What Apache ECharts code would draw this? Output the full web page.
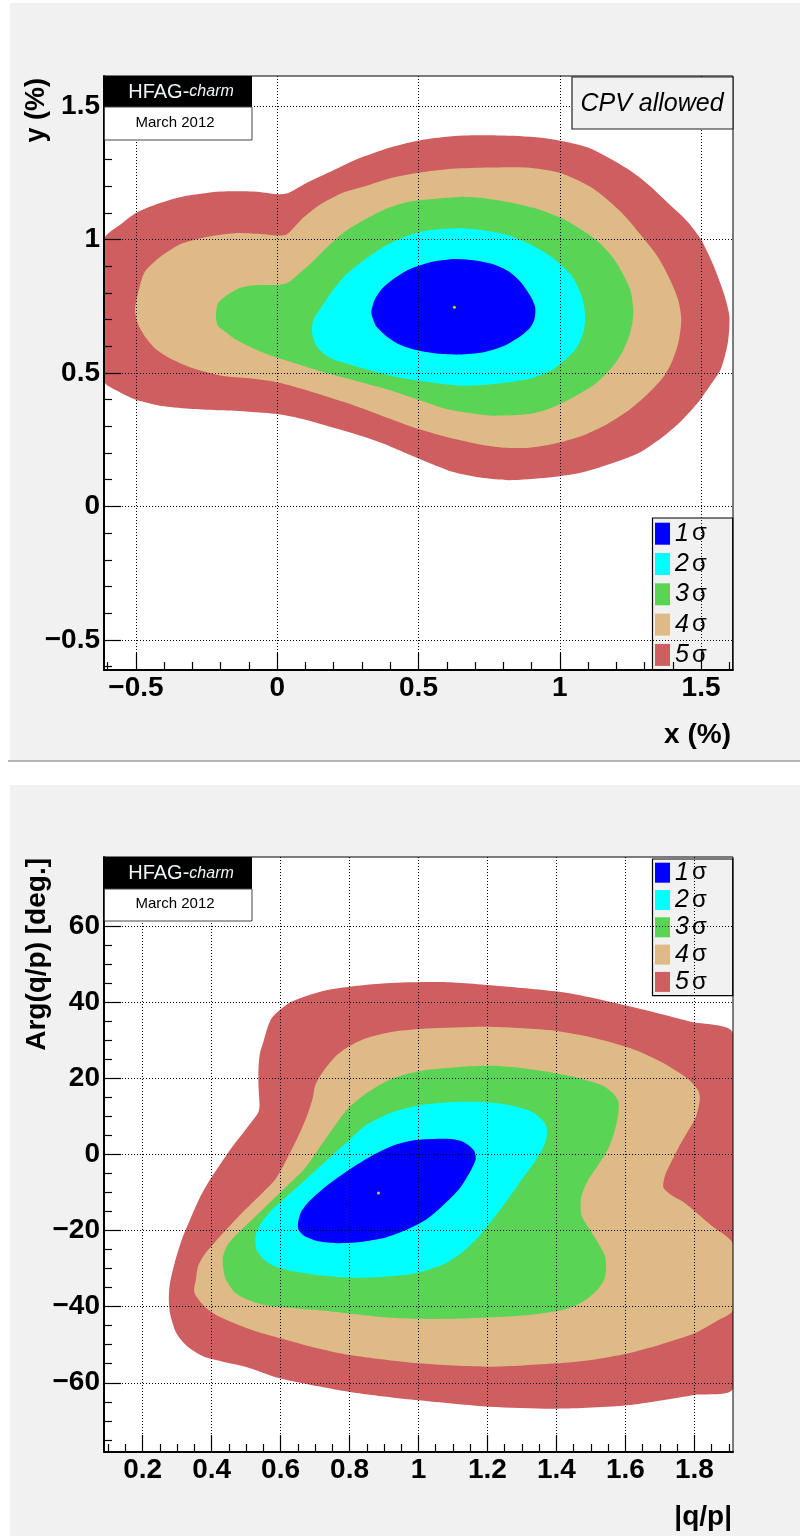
<!DOCTYPE html>
<html><head><meta charset="utf-8">
<script src="https://cdn.jsdelivr.net/npm/echarts@6/dist/echarts.min.js"></script>
<style>
html,body{margin:0;padding:0;background:#fff;}
#wrap{position:relative;width:800px;height:1536px;overflow:hidden;}
.bg{position:absolute;background:#f1f1f1;}
#chart{position:absolute;left:0;top:0;width:800px;height:1536px;}
</style></head><body>
<div id="wrap">
<div class="bg" style="left:10px;top:3px;width:790px;height:757px"></div>
<div style="position:absolute;left:8px;top:760px;width:792px;height:2px;background:#b4b4b4"></div>
<div class="bg" style="left:10px;top:785px;width:790px;height:751px"></div>
<div id="chart"></div>
</div>
<script>
// ---------- Panel 1 : x (%) vs y (%) ----------
const x1Range = [-0.613, 1.613];
const y1Range = [-0.613, 1.613];
const x1Ticks = [-0.5, 0, 0.5, 1, 1.5];
const y1Ticks = [-0.5, 0, 0.5, 1, 1.5];
const x1Minor = [-0.6,-0.4,-0.3,-0.2,-0.1,0.1,0.2,0.3,0.4,0.6,0.7,0.8,0.9,1.1,1.2,1.3,1.4,1.6];
const y1Minor = [-0.6,-0.4,-0.3,-0.2,-0.1,0.1,0.2,0.3,0.4,0.6,0.7,0.8,0.9,1.1,1.2,1.3,1.4,1.6];

const p1_5s = [[-0.613,1.00],[-0.55,1.06],[-0.5,1.10],[-0.42,1.135],[-0.34,1.16],[-0.2,1.18],[-0.08,1.18],[0.0,1.17],[0.04,1.175],[0.1,1.21],[0.18,1.25],[0.28,1.30],[0.4,1.345],[0.52,1.375],[0.66,1.39],[0.8,1.39],[0.95,1.38],[1.1,1.345],[1.24,1.265],[1.32,1.2],[1.38,1.14],[1.45,1.07],[1.5,1.0],[1.545,0.9],[1.58,0.8],[1.6,0.715],[1.595,0.615],[1.57,0.515],[1.53,0.45],[1.49,0.39],[1.43,0.32],[1.37,0.265],[1.28,0.2],[1.18,0.16],[1.07,0.125],[0.96,0.108],[0.82,0.098],[0.72,0.108],[0.62,0.13],[0.5,0.18],[0.4,0.225],[0.31,0.26],[0.2,0.295],[0.1,0.325],[0.0,0.346],[-0.1,0.355],[-0.2,0.36],[-0.3,0.365],[-0.4,0.375],[-0.5,0.40],[-0.56,0.43],[-0.613,0.47]];
const p1_4s = [[-0.503,0.74],[-0.49,0.81],[-0.47,0.877],[-0.42,0.93],[-0.34,0.984],[-0.25,1.01],[-0.15,1.024],[-0.05,1.02],[0.007,1.015],[0.035,1.02],[0.09,1.08],[0.15,1.13],[0.23,1.175],[0.31,1.2],[0.4,1.23],[0.5,1.25],[0.62,1.265],[0.75,1.27],[0.88,1.27],[1.0,1.25],[1.12,1.19],[1.22,1.1],[1.3,1.0],[1.35,0.93],[1.39,0.85],[1.42,0.77],[1.43,0.70],[1.42,0.615],[1.4,0.55],[1.37,0.49],[1.31,0.42],[1.25,0.365],[1.17,0.31],[1.08,0.265],[0.98,0.235],[0.89,0.22],[0.8,0.22],[0.746,0.227],[0.62,0.255],[0.5,0.29],[0.37,0.34],[0.24,0.39],[0.12,0.43],[0.0,0.465],[-0.1,0.48],[-0.196,0.49],[-0.29,0.515],[-0.37,0.55],[-0.43,0.59],[-0.47,0.64],[-0.495,0.69]];
const p1_3s = [[-0.217,0.71],[-0.21,0.76],[-0.18,0.79],[-0.14,0.815],[-0.094,0.8275],[-0.04,0.83],[0.007,0.83],[0.04,0.84],[0.08,0.875],[0.123,0.915],[0.18,0.975],[0.24,1.03],[0.31,1.075],[0.384,1.115],[0.46,1.14],[0.53,1.15],[0.645,1.16],[0.73,1.155],[0.82,1.14],[0.92,1.115],[1.007,1.08],[1.08,1.035],[1.138,0.99],[1.19,0.93],[1.22,0.8775],[1.25,0.81],[1.26,0.74],[1.257,0.69],[1.246,0.64],[1.22,0.575],[1.18,0.515],[1.12,0.455],[1.036,0.4025],[0.96,0.365],[0.89,0.346],[0.76,0.34],[0.68,0.35],[0.6,0.365],[0.5,0.4],[0.384,0.44],[0.28,0.47],[0.167,0.5025],[0.07,0.535],[-0.02,0.565],[-0.09,0.595],[-0.15,0.6275],[-0.19,0.66],[-0.21,0.6775]];
const p1_2s = [[0.123,0.6525],[0.128,0.70],[0.152,0.74],[0.19,0.80],[0.24,0.865],[0.31,0.925],[0.384,0.9775],[0.45,1.01],[0.53,1.034],[0.645,1.0425],[0.73,1.035],[0.82,1.015],[0.9,0.98],[0.964,0.94],[1.01,0.9],[1.05,0.8525],[1.08,0.78],[1.09,0.715],[1.085,0.66],[1.065,0.6025],[1.03,0.56],[0.978,0.515],[0.9,0.48],[0.82,0.465],[0.73,0.455],[0.645,0.4525],[0.5,0.471],[0.4,0.49],[0.31,0.515],[0.23,0.54],[0.18,0.56],[0.138,0.6025]];
const p1_1s = [[0.333,0.7275],[0.345,0.775],[0.37,0.815],[0.415,0.855],[0.47,0.89],[0.55,0.917],[0.63,0.9275],[0.7,0.922],[0.76,0.909],[0.82,0.88],[0.862,0.84],[0.895,0.79],[0.913,0.746],[0.91,0.7],[0.891,0.665],[0.85,0.63],[0.804,0.6025],[0.73,0.578],[0.645,0.569],[0.57,0.572],[0.5,0.584],[0.43,0.608],[0.384,0.64],[0.35,0.675],[0.34,0.7]];
const p1_best = [[0.627, 0.746]];

// ---------- Panel 2 : |q/p| vs Arg(q/p) ----------
const x2Range = [0.088, 1.912];
const y2Range = [-78.2, 78.2];
const x2Ticks = [0.2, 0.4, 0.6, 0.8, 1, 1.2, 1.4, 1.6, 1.8];
const y2Ticks = [-60, -40, -20, 0, 20, 40, 60];
const x2Minor = [0.1,0.15,0.25,0.3,0.35,0.45,0.5,0.55,0.65,0.7,0.75,0.85,0.9,0.95,1.05,1.1,1.15,1.25,1.3,1.35,1.45,1.5,1.55,1.65,1.7,1.75,1.85,1.9];
const y2Minor = [-75,-70,-65,-55,-50,-45,-35,-30,-25,-15,-10,-5,5,10,15,25,30,35,45,50,55,65,70,75];

const p2_5s = [[0.55,29.6],[0.574,35.8],[0.633,40.2],[0.74,43.3],[0.905,45],[1.083,45.3],[1.26,44.1],[1.437,42.4],[1.615,38.9],[1.79,34.9],[1.912,31.8],[1.912,-61.4],[1.8,-63.2],[1.606,-65.9],[1.4,-66.8],[1.207,-66.3],[1.0,-64.6],[0.8,-62.4],[0.6,-58.9],[0.498,-55.8],[0.38,-53.2],[0.33,-50.5],[0.298,-47],[0.28,-42],[0.276,-38.2],[0.279,-34],[0.296,-27.5],[0.315,-22],[0.338,-17],[0.365,-11.5],[0.397,-6.4],[0.456,1.5],[0.49,5.5],[0.515,8.5],[0.535,11],[0.539,12.9],[0.536,18],[0.536,22.6],[0.54,26.5]];
const p2_4s = [[0.693,14.7],[0.7,18],[0.716,20.8],[0.74,23.8],[0.763,26.1],[0.8,28.5],[0.846,30.5],[0.93,32.3],[1.024,33.1],[1.2,33.6],[1.378,32.7],[1.5,30.8],[1.615,27.9],[1.7,24.5],[1.78,20],[1.81,17],[1.816,14.7],[1.805,10],[1.78,5.9],[1.755,2],[1.733,-2],[1.715,-5.5],[1.71,-8.6],[1.735,-10.8],[1.77,-12.6],[1.85,-18.7],[1.912,-23.5],[1.912,-40.9],[1.86,-44],[1.8,-47],[1.7,-50],[1.606,-52.3],[1.5,-54],[1.4,-54.9],[1.207,-55.8],[1.0,-54.9],[0.8,-52.7],[0.7,-50.8],[0.6,-48.3],[0.53,-46.5],[0.468,-44.4],[0.42,-42.5],[0.38,-40],[0.35,-36.3],[0.355,-32.5],[0.361,-29.3],[0.38,-26.2],[0.409,-23.1],[0.45,-19],[0.49,-15.2],[0.54,-10.8],[0.586,-6.4],[0.625,0],[0.657,5.9],[0.68,11]];
const p2_3s = [[0.432,-27.5],[0.445,-24],[0.468,-21.4],[0.55,-14.3],[0.61,-9],[0.669,-3.8],[0.73,4],[0.787,11.2],[0.84,15.5],[0.905,19.1],[0.96,21],[1.024,22.2],[1.12,23],[1.213,23.3],[1.3,22.7],[1.378,21.7],[1.46,20.2],[1.532,18.2],[1.565,16],[1.58,13.8],[1.578,10],[1.568,5.9],[1.55,1.5],[1.52,-2.9],[1.49,-7],[1.473,-10.8],[1.47,-13.5],[1.473,-16.1],[1.495,-19.5],[1.52,-23.1],[1.54,-26.5],[1.544,-29.3],[1.54,-32.5],[1.52,-35.4],[1.48,-38.5],[1.426,-40.7],[1.34,-42],[1.26,-42.6],[1.13,-43.1],[1.0,-43.2],[0.9,-42.8],[0.82,-42],[0.72,-41],[0.65,-40.5],[0.55,-39.5],[0.5,-38],[0.468,-36.3],[0.44,-32.5]];
const p2_2s = [[0.527,-22.2],[0.532,-20],[0.545,-17.8],[0.575,-14.5],[0.61,-11.7],[0.67,-6.8],[0.728,-2],[0.79,3],[0.846,7.6],[0.92,11],[1.0,12.9],[1.1,13.8],[1.19,13.8],[1.27,12.9],[1.33,11.2],[1.365,8.5],[1.373,5.9],[1.365,2.5],[1.343,-1.1],[1.3,-6.5],[1.26,-11.7],[1.22,-16.5],[1.177,-21.4],[1.13,-25.5],[1.083,-28.4],[1.03,-30.3],[0.976,-31.5],[0.89,-32.2],[0.81,-32.4],[0.72,-31.8],[0.633,-30.6],[0.58,-29.3],[0.55,-27.5],[0.53,-25]];
const p2_1s = [[0.651,-17.8],[0.66,-15],[0.68,-12.6],[0.73,-8.5],[0.787,-4.7],[0.86,-0.6],[0.929,2.4],[0.99,3.8],[1.047,4.1],[1.1,4],[1.13,3.3],[1.16,1.2],[1.166,-1.1],[1.15,-4.5],[1.118,-9.1],[1.07,-13.5],[1.024,-17],[0.96,-20],[0.905,-21.8],[0.83,-23],[0.763,-23.3],[0.71,-22.8],[0.669,-21.4],[0.652,-19.8]];
const p2_best = [[0.884, -10.1]];

const levelNames = ['1σ','2σ','3σ','4σ','5σ'];
const levelColors = ['#0000ff','#00ffff','#59d454','#deba87','#cf5e61'];

// ---------- build option ----------
const FONT = '"Liberation Sans", Arial, Helvetica, sans-serif';
const fmt = v => String(v).replace('-', '\u2212');

function mainX(grid, range, ticks) {
  return {type:'value', gridIndex:grid, min:range[0], max:range[1], position:'bottom', z:5,
    axisLine:{show:true, onZero:false, lineStyle:{color:'#000', width:2}},
    axisTick:{show:true, inside:true, length:17, customValues:ticks, lineStyle:{color:'#000', width:1.2}},
    axisLabel:{show:true, customValues:ticks, formatter:fmt, margin:4, color:'#000', fontFamily:FONT, fontWeight:'bold', fontSize:28},
    splitLine:{show:true, lineStyle:{color:'#000', width:1, type:[1,2]}}};
}
function minorX(grid, range, ticks) {
  return {type:'value', gridIndex:grid, min:range[0], max:range[1], position:'bottom', z:5,
    axisLine:{show:false, onZero:false}, axisLabel:{show:false}, splitLine:{show:false},
    axisTick:{show:true, inside:true, length:8, customValues:ticks, lineStyle:{color:'#000', width:1.2}}};
}
function mainY(grid, range, ticks) {
  return {type:'value', gridIndex:grid, min:range[0], max:range[1], position:'left', z:5,
    axisLine:{show:true, onZero:false, lineStyle:{color:'#000', width:2}},
    axisTick:{show:true, inside:true, length:17, customValues:ticks, lineStyle:{color:'#000', width:1.2}},
    axisLabel:{show:true, customValues:ticks, formatter:fmt, margin:4, color:'#000', fontFamily:FONT, fontWeight:'bold', fontSize:28},
    splitLine:{show:true, lineStyle:{color:'#000', width:1, type:[1,2]}}};
}
function minorY(grid, range, ticks) {
  return {type:'value', gridIndex:grid, min:range[0], max:range[1], position:'left', z:5,
    axisLine:{show:false, onZero:false}, axisLabel:{show:false}, splitLine:{show:false},
    axisTick:{show:true, inside:true, length:8, customValues:ticks, lineStyle:{color:'#000', width:1.2}}};
}

function contour(name, pts, color, xi, yi) {
  return {type:'custom', name:name, xAxisIndex:xi, yAxisIndex:yi, clip:true, silent:true,
    itemStyle:{color:color}, encode:{x:0, y:1}, data:pts,
    renderItem:function(params, api){
      if (params.dataIndex !== 0) return null;
      const cs = params.coordSys;
      const points = pts.map(p => api.coord(p));
      return {type:'polygon', shape:{points:points, smooth:0.25}, style:{fill:color, stroke:null},
        clipPath:{type:'rect', shape:{x:cs.x, y:cs.y, width:cs.width, height:cs.height}}};
    }};
}

const panel1 = [p1_1s, p1_2s, p1_3s, p1_4s, p1_5s];
const panel2 = [p2_1s, p2_2s, p2_3s, p2_4s, p2_5s];
const series = [];
for (let i = 4; i >= 0; i--) series.push(contour(levelNames[i], panel1[i], levelColors[i], 0, 0));
series.push({type:'scatter', xAxisIndex:0, yAxisIndex:0, data:p1_best, symbolSize:3, itemStyle:{color:'#ffff00'}, silent:true, z:3});
for (let i = 4; i >= 0; i--) series.push(contour(levelNames[i], panel2[i], levelColors[i], 2, 2));
series.push({type:'scatter', xAxisIndex:2, yAxisIndex:2, data:p2_best, symbolSize:3, itemStyle:{color:'#ffff00'}, silent:true, z:3});

function legendAt(top, itemH, gap, pad) {
  return {show:true, orient:'vertical', left:652.5, top:top, data:levelNames, icon:'rect',
    itemWidth:15, itemHeight:itemH, itemGap:gap, itemTextGap:9, selectedMode:false,
    padding:pad, backgroundColor:'#f1f1f1', borderColor:'#000', borderWidth:1.2, borderRadius:0,
    formatter:name => '{n|' + name.charAt(0) + '}{s|σ}',
    textStyle:{color:'#000', fontSize:24, rich:{
      n:{fontFamily:FONT, fontStyle:'italic', fontSize:25, color:'#000', padding:[0,3,0,0]},
      s:{fontFamily:FONT, fontSize:24, color:'#000'}}}};
}

function hfag(top, hBlack, hWhite) {
  return [
    {type:'rect', z:100, shape:{x:104, y:top, width:148, height:hBlack}, style:{fill:'#000'}},
    {type:'rect', z:100, shape:{x:104.5, y:top+hBlack, width:147.5, height:hWhite}, style:{fill:'#fff', stroke:'#444', lineWidth:1}},
    {type:'text', z:101, x:181, y:top+hBlack/2+0.5, style:{text:'{a|HFAG-}{b|charm}', align:'center', verticalAlign:'middle',
      rich:{a:{fontFamily:FONT, fontSize:20, fill:'#eef7f7'}, b:{fontFamily:FONT, fontSize:16, fontStyle:'italic', fill:'#eef7f7'}}}},
    {type:'text', z:101, x:175, y:top+hBlack+hWhite/2-1, style:{text:'March 2012', align:'center', verticalAlign:'middle', font:'15px ' + FONT, fill:'#000'}}
  ];
}

const graphics = [
  {type:'rect', z:90, shape:{x:104, y:76, width:629, height:594}, style:{fill:null, stroke:'#000', lineWidth:1}},
  {type:'rect', z:90, shape:{x:104, y:857, width:629, height:595}, style:{fill:null, stroke:'#000', lineWidth:1}},
  ...hfag(76, 31, 33),
  ...hfag(857, 32, 32),
  {type:'rect', z:100, shape:{x:572, y:77, width:161, height:52}, style:{fill:'#f1f1f1', stroke:'#222', lineWidth:1.2}},
  {type:'text', z:101, x:652, y:104, style:{text:'CPV allowed', align:'center', verticalAlign:'middle', font:'italic 25px ' + FONT, fill:'#000'}},
  {type:'text', z:101, x:37, y:78, rotation:Math.PI/2, style:{text:'y (%)', align:'right', verticalAlign:'middle', font:'bold 27px ' + FONT, fill:'#000'}},
  {type:'text', z:101, x:731, y:735, style:{text:'x (%)', align:'right', verticalAlign:'middle', font:'bold 28px ' + FONT, fill:'#000'}},
  {type:'text', z:101, x:37, y:858, rotation:Math.PI/2, style:{text:'Arg(q/p) [deg.]', align:'right', verticalAlign:'middle', font:'bold 28px ' + FONT, fill:'#000'}},
  {type:'text', z:101, x:732, y:1517, style:{text:'|q/p|', align:'right', verticalAlign:'middle', font:'bold 28px ' + FONT, fill:'#000'}}
];

const option = {
  animation:false,
  grid:[
    {left:104, top:76, width:629, height:594, show:true, backgroundColor:'#fff', borderWidth:0, containLabel:false},
    {left:104, top:857, width:629, height:595, show:true, backgroundColor:'#fff', borderWidth:0, containLabel:false}
  ],
  xAxis:[mainX(0, x1Range, x1Ticks), minorX(0, x1Range, x1Minor), mainX(1, x2Range, x2Ticks), minorX(1, x2Range, x2Minor)],
  yAxis:[mainY(0, y1Range, y1Ticks), minorY(0, y1Range, y1Minor), mainY(1, y2Range, y2Ticks), minorY(1, y2Range, y2Minor)],
  legend:[legendAt(518, 22, 5.3, [3.2, 26, 2.6, 2.5]), legendAt(859, 20, 2.3, [1.2, 26, 1.3, 2.5])],
  graphic:{elements:graphics},
  series:series
};

const chart = echarts.init(document.getElementById('chart'), null, {renderer:'canvas'});
chart.setOption(option);
</script>
</body></html>
